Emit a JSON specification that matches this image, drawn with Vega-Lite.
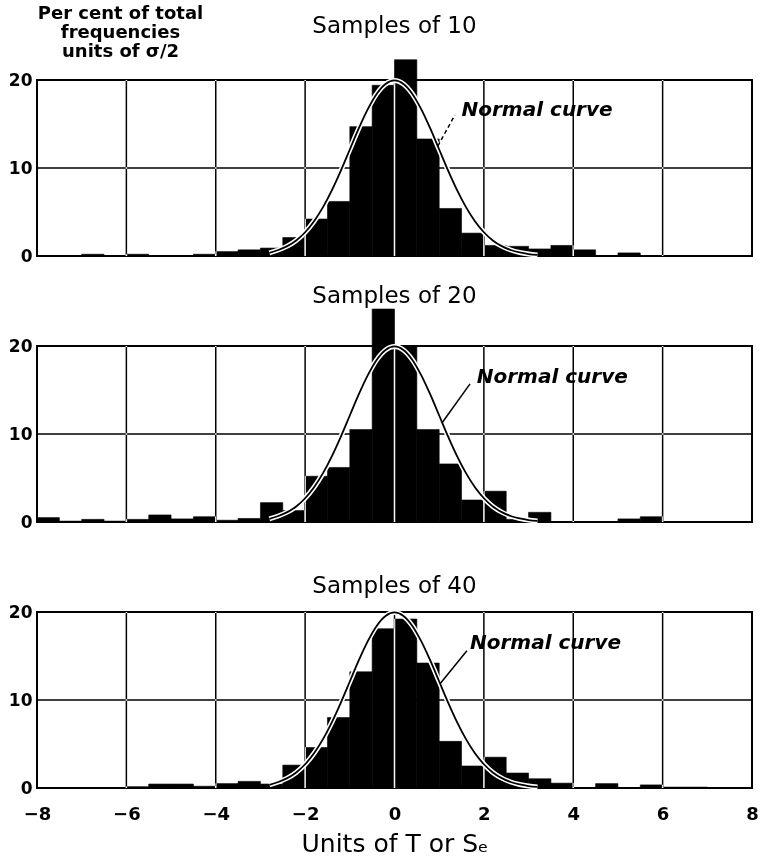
{
  "$schema": "https://vega.github.io/schema/vega-lite/v6.json",
  "background": "white",
  "padding": {"left": 7, "top": 3, "right": 6, "bottom": 4},
  "spacing": 90,
  "bounds": "flush",
  "datasets": {
    "bars": [
      {"s": 10, "x0": -7, "x1": -6.5, "pct": 0.2},
      {"s": 10, "x0": -6, "x1": -5.5, "pct": 0.2},
      {"s": 10, "x0": -4.5, "x1": -4, "pct": 0.2},
      {"s": 10, "x0": -4, "x1": -3.5, "pct": 0.5},
      {"s": 10, "x0": -3.5, "x1": -3, "pct": 0.7},
      {"s": 10, "x0": -3, "x1": -2.5, "pct": 0.9},
      {"s": 10, "x0": -2.5, "x1": -2, "pct": 2.1},
      {"s": 10, "x0": -2, "x1": -1.5, "pct": 4.2},
      {"s": 10, "x0": -1.5, "x1": -1, "pct": 6.2},
      {"s": 10, "x0": -1, "x1": -0.5, "pct": 14.7},
      {"s": 10, "x0": -0.5, "x1": 0, "pct": 19.4},
      {"s": 10, "x0": 0, "x1": 0.5, "pct": 22.3},
      {"s": 10, "x0": 0.5, "x1": 1, "pct": 13.3},
      {"s": 10, "x0": 1, "x1": 1.5, "pct": 5.4},
      {"s": 10, "x0": 1.5, "x1": 2, "pct": 2.6},
      {"s": 10, "x0": 2, "x1": 2.5, "pct": 1.2},
      {"s": 10, "x0": 2.5, "x1": 3, "pct": 1.1},
      {"s": 10, "x0": 3, "x1": 3.5, "pct": 0.8},
      {"s": 10, "x0": 3.5, "x1": 4, "pct": 1.2},
      {"s": 10, "x0": 4, "x1": 4.5, "pct": 0.7},
      {"s": 10, "x0": 5, "x1": 5.5, "pct": 0.35},
      {"s": 20, "x0": -8, "x1": -7.5, "pct": 0.5},
      {"s": 20, "x0": -7.5, "x1": -7, "pct": 0.1},
      {"s": 20, "x0": -7, "x1": -6.5, "pct": 0.3},
      {"s": 20, "x0": -6.5, "x1": -6, "pct": 0.1},
      {"s": 20, "x0": -6, "x1": -5.5, "pct": 0.3},
      {"s": 20, "x0": -5.5, "x1": -5, "pct": 0.8},
      {"s": 20, "x0": -5, "x1": -4.5, "pct": 0.35},
      {"s": 20, "x0": -4.5, "x1": -4, "pct": 0.6},
      {"s": 20, "x0": -4, "x1": -3.5, "pct": 0.2},
      {"s": 20, "x0": -3.5, "x1": -3, "pct": 0.4},
      {"s": 20, "x0": -3, "x1": -2.5, "pct": 2.2},
      {"s": 20, "x0": -2.5, "x1": -2, "pct": 1.3},
      {"s": 20, "x0": -2, "x1": -1.5, "pct": 5.2},
      {"s": 20, "x0": -1.5, "x1": -1, "pct": 6.2},
      {"s": 20, "x0": -1, "x1": -0.5, "pct": 10.5},
      {"s": 20, "x0": -0.5, "x1": 0, "pct": 24.2},
      {"s": 20, "x0": 0, "x1": 0.5, "pct": 19.9},
      {"s": 20, "x0": 0.5, "x1": 1, "pct": 10.5},
      {"s": 20, "x0": 1, "x1": 1.5, "pct": 6.6},
      {"s": 20, "x0": 1.5, "x1": 2, "pct": 2.5},
      {"s": 20, "x0": 2, "x1": 2.5, "pct": 3.5},
      {"s": 20, "x0": 2.5, "x1": 3, "pct": 0.3},
      {"s": 20, "x0": 3, "x1": 3.5, "pct": 1.1},
      {"s": 20, "x0": 5, "x1": 5.5, "pct": 0.35},
      {"s": 20, "x0": 5.5, "x1": 6, "pct": 0.6},
      {"s": 40, "x0": -6, "x1": -5.5, "pct": 0.15},
      {"s": 40, "x0": -5.5, "x1": -5, "pct": 0.45},
      {"s": 40, "x0": -5, "x1": -4.5, "pct": 0.45},
      {"s": 40, "x0": -4.5, "x1": -4, "pct": 0.2},
      {"s": 40, "x0": -4, "x1": -3.5, "pct": 0.5},
      {"s": 40, "x0": -3.5, "x1": -3, "pct": 0.75},
      {"s": 40, "x0": -3, "x1": -2.5, "pct": 0.45},
      {"s": 40, "x0": -2.5, "x1": -2, "pct": 2.6},
      {"s": 40, "x0": -2, "x1": -1.5, "pct": 4.6},
      {"s": 40, "x0": -1.5, "x1": -1, "pct": 8.0},
      {"s": 40, "x0": -1, "x1": -0.5, "pct": 13.2},
      {"s": 40, "x0": -0.5, "x1": 0, "pct": 18.1},
      {"s": 40, "x0": 0, "x1": 0.5, "pct": 19.2},
      {"s": 40, "x0": 0.5, "x1": 1, "pct": 14.2},
      {"s": 40, "x0": 1, "x1": 1.5, "pct": 5.3},
      {"s": 40, "x0": 1.5, "x1": 2, "pct": 2.5},
      {"s": 40, "x0": 2, "x1": 2.5, "pct": 3.5},
      {"s": 40, "x0": 2.5, "x1": 3, "pct": 1.7},
      {"s": 40, "x0": 3, "x1": 3.5, "pct": 1.05},
      {"s": 40, "x0": 3.5, "x1": 4, "pct": 0.55},
      {"s": 40, "x0": 4.5, "x1": 5, "pct": 0.5},
      {"s": 40, "x0": 5.5, "x1": 6, "pct": 0.35},
      {"s": 40, "x0": 6, "x1": 6.5, "pct": 0.1},
      {"s": 40, "x0": 6.5, "x1": 7, "pct": 0.1}
    ],
    "curve": [
      {"x": -2.8, "y": 0.35}, {"x": -2.6, "y": 0.68}, {"x": -2.4, "y": 1.12}, {"x": -2.2, "y": 1.77},
      {"x": -2.0, "y": 2.70}, {"x": -1.8, "y": 3.95}, {"x": -1.6, "y": 5.55}, {"x": -1.4, "y": 7.49},
      {"x": -1.2, "y": 9.71}, {"x": -1.0, "y": 12.10}, {"x": -0.8, "y": 14.49}, {"x": -0.6, "y": 16.66},
      {"x": -0.4, "y": 18.42}, {"x": -0.2, "y": 19.55}, {"x": 0, "y": 19.95}, {"x": 0.2, "y": 19.55},
      {"x": 0.4, "y": 18.42}, {"x": 0.6, "y": 16.66}, {"x": 0.8, "y": 14.49}, {"x": 1.0, "y": 12.10},
      {"x": 1.2, "y": 9.71}, {"x": 1.4, "y": 7.49}, {"x": 1.6, "y": 5.55}, {"x": 1.8, "y": 3.95},
      {"x": 2.0, "y": 2.70}, {"x": 2.2, "y": 1.77}, {"x": 2.4, "y": 1.12}, {"x": 2.6, "y": 0.68},
      {"x": 2.8, "y": 0.40}, {"x": 3.0, "y": 0.22}, {"x": 3.2, "y": 0.12}
    ],
    "notes": [
      {"s": 10, "x": 1.5, "y": 16.6, "label": "Normal curve"},
      {"s": 20, "x": 1.84, "y": 16.5, "label": "Normal curve"},
      {"s": 40, "x": 1.69, "y": 16.5, "label": "Normal curve"}
    ],
    "leaders": [
      {"s": 10, "x": 1.35, "y": 16.0}, {"s": 10, "x": 0.97, "y": 12.5},
      {"s": 20, "x": 1.69, "y": 15.7}, {"s": 20, "x": 1.07, "y": 11.3},
      {"s": 40, "x": 1.62, "y": 15.6}, {"s": 40, "x": 1.02, "y": 11.85}
    ],
    "hgrid": [{"h": 10}],
    "vgrid": [{"g": -6}, {"g": -4}, {"g": -2}, {"g": 0}, {"g": 2}, {"g": 4}, {"g": 6}]
  },
  "vconcat": [
    {
      "width": 715, "height": 176,
      "title": {"text": "Samples of 10", "offset": -34},
      "layer": [
        {"data": {"name": "hgrid"}, "mark": {"type": "rule", "color": "black", "strokeWidth": 1.5},
         "encoding": {"y": {"field": "h", "type": "quantitative", "scale": {"domain": [0, 20], "nice": false},
           "axis": {"values": [0, 10, 20], "title": ["Per cent of total", "frequencies", "units of σ/2"], "titleAngle": 0, "titleAlign": "center", "titleBaseline": "alphabetic", "titleX": 83, "titleY": -62, "titleFontSize": 18, "titleFontWeight": "bold", "titleLineHeight": 19}}}},
        {"data": {"name": "bars"}, "transform": [{"filter": "datum.s == 10"}],
         "mark": {"type": "bar", "color": "black", "stroke": "black", "strokeWidth": 0.6},
         "encoding": {
           "x": {"field": "x0", "type": "quantitative", "scale": {"domain": [-8, 8], "nice": false}, "axis": null},
           "x2": {"field": "x1"},
           "y": {"field": "pct", "type": "quantitative", "scale": {"domain": [0, 20], "nice": false},
             "axis": {"values": [0, 10, 20], "title": ["Per cent of total", "frequencies", "units of σ/2"], "titleAngle": 0, "titleAlign": "center", "titleBaseline": "alphabetic", "titleX": 83, "titleY": -62, "titleFontSize": 18, "titleFontWeight": "bold", "titleLineHeight": 19}},
           "y2": {"datum": 0}
         }},
        {"data": {"name": "vgrid"}, "mark": {"type": "rule", "color": "white", "strokeWidth": 1.5, "blend": "difference"},
         "encoding": {"x": {"field": "g", "type": "quantitative", "scale": {"domain": [-8, 8], "nice": false}, "axis": null}}},
        {"data": {"name": "curve"}, "mark": {"type": "line", "color": "white", "strokeWidth": 5, "interpolate": "monotone"},
         "encoding": {"x": {"field": "x", "type": "quantitative", "scale": {"domain": [-8, 8], "nice": false}, "axis": null},
                      "y": {"field": "y", "type": "quantitative", "scale": {"domain": [0, 20], "nice": false},
                        "axis": {"values": [0, 10, 20], "title": ["Per cent of total", "frequencies", "units of σ/2"], "titleAngle": 0, "titleAlign": "center", "titleBaseline": "alphabetic", "titleX": 83, "titleY": -62, "titleFontSize": 18, "titleFontWeight": "bold", "titleLineHeight": 19}}}},
        {"data": {"name": "curve"}, "mark": {"type": "line", "color": "black", "strokeWidth": 1.8, "interpolate": "monotone"},
         "encoding": {"x": {"field": "x", "type": "quantitative", "scale": {"domain": [-8, 8], "nice": false}, "axis": null},
                      "y": {"field": "y", "type": "quantitative", "scale": {"domain": [0, 20], "nice": false},
                        "axis": {"values": [0, 10, 20], "title": ["Per cent of total", "frequencies", "units of σ/2"], "titleAngle": 0, "titleAlign": "center", "titleBaseline": "alphabetic", "titleX": 83, "titleY": -62, "titleFontSize": 18, "titleFontWeight": "bold", "titleLineHeight": 19}}}},
        {"data": {"name": "leaders"}, "transform": [{"filter": "datum.s == 10"}],
         "mark": {"type": "line", "color": "black", "strokeWidth": 1.5, "strokeDash": [4, 3]},
         "encoding": {"x": {"field": "x", "type": "quantitative", "scale": {"domain": [-8, 8], "nice": false}, "axis": null},
                      "y": {"field": "y", "type": "quantitative", "scale": {"domain": [0, 20], "nice": false},
                        "axis": {"values": [0, 10, 20], "title": ["Per cent of total", "frequencies", "units of σ/2"], "titleAngle": 0, "titleAlign": "center", "titleBaseline": "alphabetic", "titleX": 83, "titleY": -62, "titleFontSize": 18, "titleFontWeight": "bold", "titleLineHeight": 19}}}},
        {"data": {"name": "notes"}, "transform": [{"filter": "datum.s == 10"}],
         "mark": {"type": "text", "align": "left", "baseline": "middle", "fontSize": 20, "fontStyle": "italic", "fontWeight": "bold", "font": "DejaVu Sans", "color": "black"},
         "encoding": {"x": {"field": "x", "type": "quantitative", "scale": {"domain": [-8, 8], "nice": false}, "axis": null},
                      "y": {"field": "y", "type": "quantitative", "scale": {"domain": [0, 20], "nice": false},
                        "axis": {"values": [0, 10, 20], "title": ["Per cent of total", "frequencies", "units of σ/2"], "titleAngle": 0, "titleAlign": "center", "titleBaseline": "alphabetic", "titleX": 83, "titleY": -62, "titleFontSize": 18, "titleFontWeight": "bold", "titleLineHeight": 19}},
                      "text": {"field": "label"}}}
      ]
    },
    {
      "width": 715, "height": 176,
      "title": {"text": "Samples of 20", "offset": 1},
      "layer": [
        {"data": {"name": "hgrid"}, "mark": {"type": "rule", "color": "black", "strokeWidth": 1.5},
         "encoding": {"y": {"field": "h", "type": "quantitative", "scale": {"domain": [0, 20], "nice": false}, "axis": {"values": [0, 10, 20], "title": null}}}},
        {"data": {"name": "bars"}, "transform": [{"filter": "datum.s == 20"}],
         "mark": {"type": "bar", "color": "black", "stroke": "black", "strokeWidth": 0.6},
         "encoding": {
           "x": {"field": "x0", "type": "quantitative", "scale": {"domain": [-8, 8], "nice": false}, "axis": null},
           "x2": {"field": "x1"},
           "y": {"field": "pct", "type": "quantitative", "scale": {"domain": [0, 20], "nice": false}, "axis": {"values": [0, 10, 20], "title": null}},
           "y2": {"datum": 0}
         }},
        {"data": {"name": "vgrid"}, "mark": {"type": "rule", "color": "white", "strokeWidth": 1.5, "blend": "difference"},
         "encoding": {"x": {"field": "g", "type": "quantitative", "scale": {"domain": [-8, 8], "nice": false}, "axis": null}}},
        {"data": {"name": "curve"}, "mark": {"type": "line", "color": "white", "strokeWidth": 5, "interpolate": "monotone"},
         "encoding": {"x": {"field": "x", "type": "quantitative", "scale": {"domain": [-8, 8], "nice": false}, "axis": null},
                      "y": {"field": "y", "type": "quantitative", "scale": {"domain": [0, 20], "nice": false}, "axis": {"values": [0, 10, 20], "title": null}}}},
        {"data": {"name": "curve"}, "mark": {"type": "line", "color": "black", "strokeWidth": 1.8, "interpolate": "monotone"},
         "encoding": {"x": {"field": "x", "type": "quantitative", "scale": {"domain": [-8, 8], "nice": false}, "axis": null},
                      "y": {"field": "y", "type": "quantitative", "scale": {"domain": [0, 20], "nice": false}, "axis": {"values": [0, 10, 20], "title": null}}}},
        {"data": {"name": "leaders"}, "transform": [{"filter": "datum.s == 20"}],
         "mark": {"type": "line", "color": "black", "strokeWidth": 1.5},
         "encoding": {"x": {"field": "x", "type": "quantitative", "scale": {"domain": [-8, 8], "nice": false}, "axis": null},
                      "y": {"field": "y", "type": "quantitative", "scale": {"domain": [0, 20], "nice": false}, "axis": {"values": [0, 10, 20], "title": null}}}},
        {"data": {"name": "notes"}, "transform": [{"filter": "datum.s == 20"}],
         "mark": {"type": "text", "align": "left", "baseline": "middle", "fontSize": 20, "fontStyle": "italic", "fontWeight": "bold", "font": "DejaVu Sans", "color": "black"},
         "encoding": {"x": {"field": "x", "type": "quantitative", "scale": {"domain": [-8, 8], "nice": false}, "axis": null},
                      "y": {"field": "y", "type": "quantitative", "scale": {"domain": [0, 20], "nice": false}, "axis": {"values": [0, 10, 20], "title": null}},
                      "text": {"field": "label"}}}
      ]
    },
    {
      "width": 715, "height": 176,
      "title": {"text": "Samples of 40", "offset": 4},
      "layer": [
        {"data": {"name": "hgrid"}, "mark": {"type": "rule", "color": "black", "strokeWidth": 1.5},
         "encoding": {"y": {"field": "h", "type": "quantitative", "scale": {"domain": [0, 20], "nice": false}, "axis": {"values": [0, 10, 20], "title": null}}}},
        {"data": {"name": "bars"}, "transform": [{"filter": "datum.s == 40"}],
         "mark": {"type": "bar", "color": "black", "stroke": "black", "strokeWidth": 0.6},
         "encoding": {
           "x": {"field": "x0", "type": "quantitative", "scale": {"domain": [-8, 8], "nice": false},
                 "axis": {"values": [-8, -6, -4, -2, 0, 2, 4, 6, 8], "format": "d", "title": "Units of T or Sₑ"}},
           "x2": {"field": "x1"},
           "y": {"field": "pct", "type": "quantitative", "scale": {"domain": [0, 20], "nice": false}, "axis": {"values": [0, 10, 20], "title": null}},
           "y2": {"datum": 0}
         }},
        {"data": {"name": "vgrid"}, "mark": {"type": "rule", "color": "white", "strokeWidth": 1.5, "blend": "difference"},
         "encoding": {"x": {"field": "g", "type": "quantitative", "scale": {"domain": [-8, 8], "nice": false},
                 "axis": {"values": [-8, -6, -4, -2, 0, 2, 4, 6, 8], "format": "d", "title": "Units of T or Sₑ"}}}},
        {"data": {"name": "curve"}, "mark": {"type": "line", "color": "white", "strokeWidth": 5, "interpolate": "monotone"},
         "encoding": {"x": {"field": "x", "type": "quantitative", "scale": {"domain": [-8, 8], "nice": false},
                 "axis": {"values": [-8, -6, -4, -2, 0, 2, 4, 6, 8], "format": "d", "title": "Units of T or Sₑ"}},
                      "y": {"field": "y", "type": "quantitative", "scale": {"domain": [0, 20], "nice": false}, "axis": {"values": [0, 10, 20], "title": null}}}},
        {"data": {"name": "curve"}, "mark": {"type": "line", "color": "black", "strokeWidth": 1.8, "interpolate": "monotone"},
         "encoding": {"x": {"field": "x", "type": "quantitative", "scale": {"domain": [-8, 8], "nice": false},
                 "axis": {"values": [-8, -6, -4, -2, 0, 2, 4, 6, 8], "format": "d", "title": "Units of T or Sₑ"}},
                      "y": {"field": "y", "type": "quantitative", "scale": {"domain": [0, 20], "nice": false}, "axis": {"values": [0, 10, 20], "title": null}}}},
        {"data": {"name": "leaders"}, "transform": [{"filter": "datum.s == 40"}],
         "mark": {"type": "line", "color": "black", "strokeWidth": 1.5},
         "encoding": {"x": {"field": "x", "type": "quantitative", "scale": {"domain": [-8, 8], "nice": false},
                 "axis": {"values": [-8, -6, -4, -2, 0, 2, 4, 6, 8], "format": "d", "title": "Units of T or Sₑ"}},
                      "y": {"field": "y", "type": "quantitative", "scale": {"domain": [0, 20], "nice": false}, "axis": {"values": [0, 10, 20], "title": null}}}},
        {"data": {"name": "notes"}, "transform": [{"filter": "datum.s == 40"}],
         "mark": {"type": "text", "align": "left", "baseline": "middle", "fontSize": 20, "fontStyle": "italic", "fontWeight": "bold", "font": "DejaVu Sans", "color": "black"},
         "encoding": {"x": {"field": "x", "type": "quantitative", "scale": {"domain": [-8, 8], "nice": false},
                 "axis": {"values": [-8, -6, -4, -2, 0, 2, 4, 6, 8], "format": "d", "title": "Units of T or Sₑ"}},
                      "y": {"field": "y", "type": "quantitative", "scale": {"domain": [0, 20], "nice": false}, "axis": {"values": [0, 10, 20], "title": null}},
                      "text": {"field": "label"}}}
      ]
    }
  ],
  "config": {
    "font": "DejaVu Sans",
    "view": {"stroke": "black", "strokeWidth": 2},
    "axis": {"grid": false, "ticks": false, "domain": false, "labelColor": "black", "titleColor": "black",
             "labelFont": "DejaVu Sans", "titleFont": "DejaVu Sans", "labelFontWeight": "bold"},
    "axisY": {"labelFontSize": 17, "labelPadding": 5},
    "axisX": {"labelFontSize": 18, "labelPadding": 17, "labelFlush": false, "labelOverlap": false, "titleFontSize": 25, "titleFontWeight": "normal", "titlePadding": 8},
    "title": {"font": "DejaVu Sans", "fontSize": 23, "fontWeight": "normal", "color": "black", "frame": "group", "anchor": "middle", "baseline": "alphabetic"}
  }
}
